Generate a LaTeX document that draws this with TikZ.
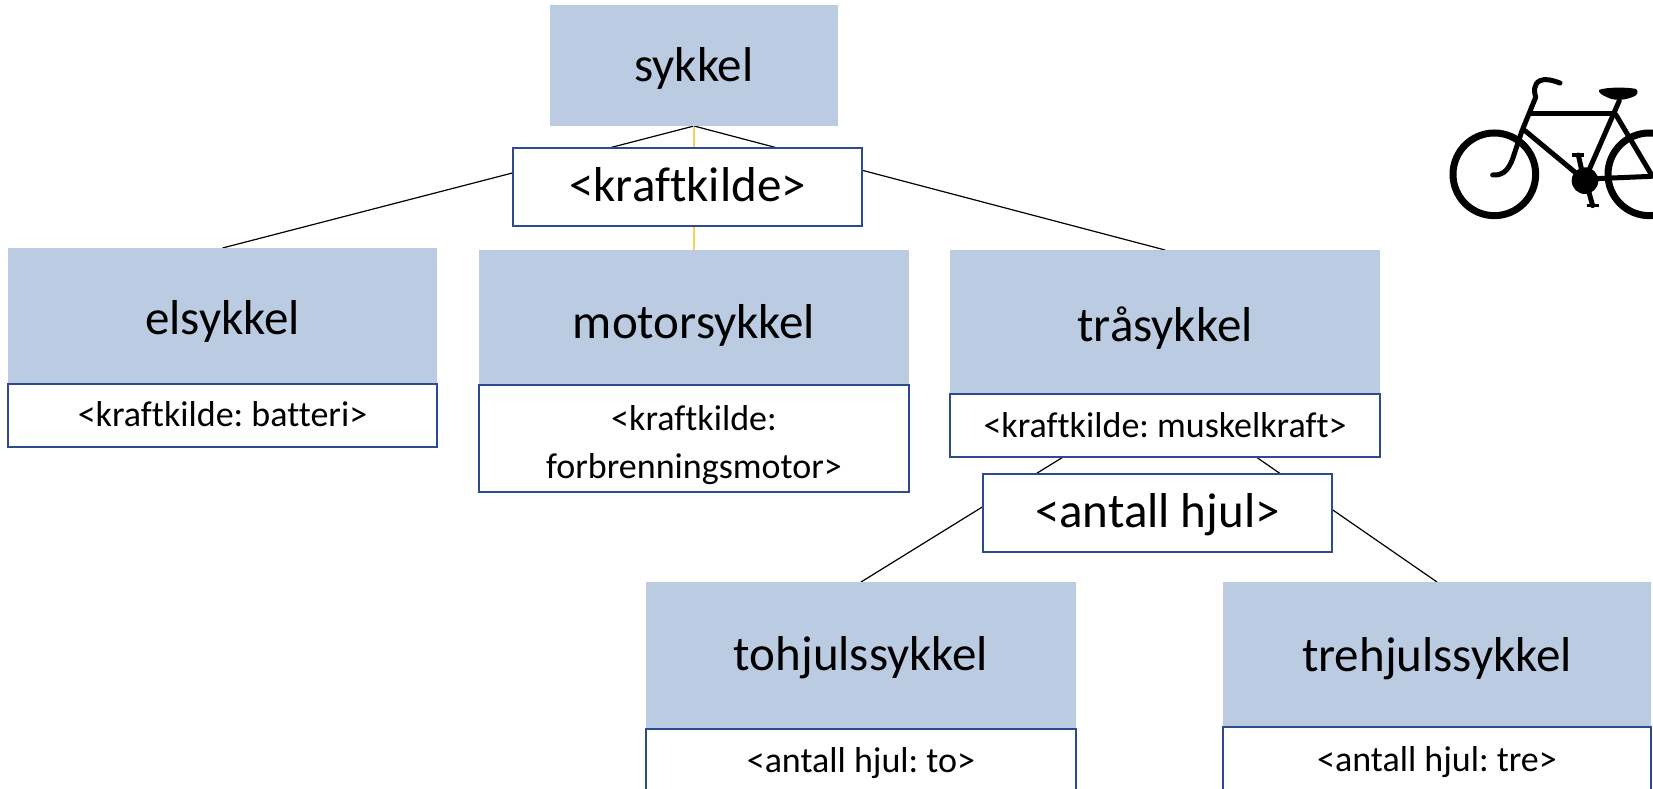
\documentclass[tikz,border=0pt]{standalone}
\usepackage{fontspec}
\setmainfont{Carlito}[Ligatures=NoCommon]
\usetikzlibrary{backgrounds}
\definecolor{classfill}{HTML}{BBCBE1}
\definecolor{boxedge}{HTML}{2F4B8F}
\definecolor{yline}{HTML}{EFD45C}
\tikzset{
  classbox/.style={fill=classfill,draw=none,inner sep=0pt,outer sep=0pt,anchor=north west,
    font=\frenchspacing\fontsize{49}{53}\selectfont,text depth=10pt},
  discbox/.style={fill=white,draw=boxedge,line width=1.4pt,inner sep=0pt,outer sep=0pt,anchor=north west,
    font=\frenchspacing\fontsize{49}{53}\selectfont,text height=38.4pt,text depth=10pt},
  attrbox/.style={fill=white,draw=boxedge,line width=1.2pt,inner sep=0pt,outer sep=0pt,anchor=north west,
    font=\frenchspacing\fontsize{36}{48}\selectfont},
  single/.style={text depth=7pt},
  rel/.style={draw=black,line width=1.2pt},
  relyellow/.style={draw=yline,line width=1.2pt},
  bike/.style={draw=black,line width=5pt,line cap=round,line join=round}
}
\begin{document}
\begin{tikzpicture}[x=1pt,y=-1pt]
\clip (0,0) rectangle (1653,789);
% class boxes
\node[classbox,text height=42.5pt,minimum width=288pt,minimum height=121pt] (sykkel) at (550,5) {sykkel};
\node[classbox,text height=47pt,minimum width=429pt,minimum height=136pt] (el) at (8,248) {elsykkel};
\node[classbox,text height=51pt,minimum width=430pt,minimum height=135pt] (motor) at (479,250) {motorsykkel};
\node[classbox,text height=49pt,minimum width=430pt,minimum height=144pt] (tra) at (950,250) {tråsykkel};
\node[classbox,text height=40.4pt,minimum width=430pt,minimum height=147pt] (to) at (646,582) {tohjulssykkel};
\node[classbox,text height=44.6pt,minimum width=428pt,minimum height=145pt] (tre) at (1223,582) {trehjulssykkel};
% attribute boxes
\node[attrbox,single,text height=28pt,minimum width=429pt,minimum height=63pt] (elattr) at (8,384) {<kraftkilde: batteri>};
\node[attrbox,align=center,minimum width=430pt,minimum height=107pt] (motorattr) at (479,385) {\rule{0pt}{38pt}<kraftkilde:\\forbrenningsmotor>};
\node[attrbox,single,text height=30pt,minimum width=430pt,minimum height=63pt] (traattr) at (950,394) {<kraftkilde: muskelkraft>};
\node[attrbox,single,text height=28pt,minimum width=430pt,minimum height=66pt] (toattr) at (646,729) {<antall hjul: to>};
\node[attrbox,single,text height=28pt,minimum width=428pt,minimum height=68pt] (treattr) at (1223,727) {<antall hjul: tre>};
% discriminators
\node[discbox,minimum width=349pt,minimum height=78pt] (disc1) at (513,148) {<kraftkilde>};
\node[discbox,minimum width=349pt,minimum height=78pt] (disc2) at (983,474) {<antall hjul>};
% connectors
\begin{pgfonlayer}{background}
\draw[rel] (sykkel.south) -- (el.north);
\draw[relyellow] (sykkel.south) -- (motor.north);
\draw[rel] (sykkel.south) -- (tra.north);
\draw[rel] (tra.south) -- (to.north);
\draw[rel] (tra.south) -- (tre.north);
\end{pgfonlayer}
% bicycle
\begin{scope}[shift={(1400,60)},x=0.3333pt,y=-0.3333pt]
\draw[bike,line width=7pt] (283,343) circle[radius=124];
\draw[bike,line width=7pt] (748,343) circle[radius=124];
\fill (555,362) circle[radius=40];
\draw[bike] (480,69) .. controls (455,60) and (435,55) .. (420,62)
  .. controls (400,72) and (402,95) .. (407,112) -- (365,215) -- (345,275)
  .. controls (330,325) and (315,347) .. (278,345);
\draw[bike] (390,160) -- (645,160);
\draw[bike] (375,212) -- (535,345);
\draw[bike] (658,122) -- (565,335);
\draw[bike] (648,165) -- (755,345);
\draw[bike] (590,356) -- (755,349);
\fill (597,90) .. controls (620,80) and (690,82) .. (708,87)
  .. controls (718,95) and (712,108) .. (695,112)
  .. controls (670,122) and (640,122) .. (622,112)
  .. controls (605,105) and (595,98) .. (597,90) -- cycle;
\draw[bike,line width=3.5pt,line cap=butt] (517,285) -- (553,285);
\draw[bike] (535,285) -- (545,330);
\draw[bike] (565,390) -- (578,437);
\draw[bike,line width=3.5pt,line cap=butt] (560,437) -- (597,437);
\end{scope}
\end{tikzpicture}
\end{document}
